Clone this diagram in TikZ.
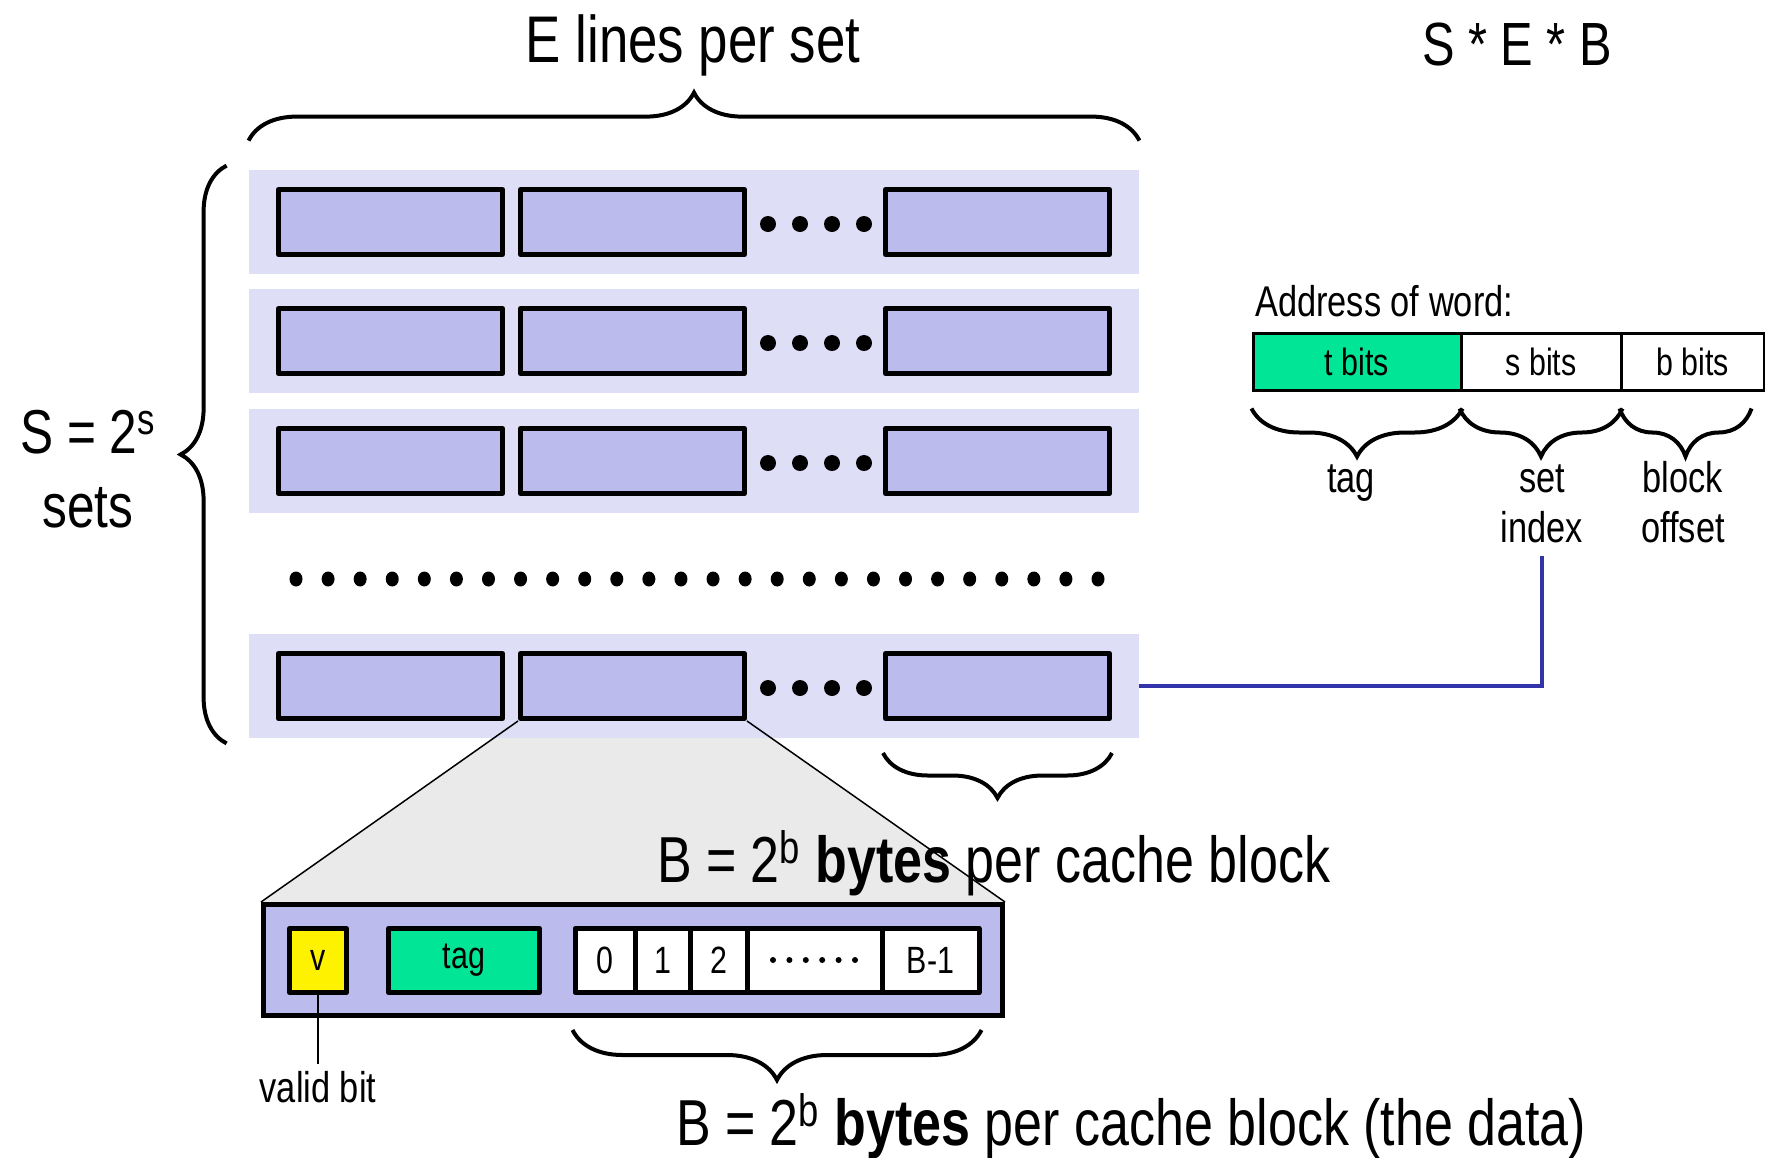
\documentclass[tikz,border=0pt]{standalone}
\usepackage{fontspec}
\setmainfont{Liberation Sans}[FakeStretch=0.8]
\usetikzlibrary{decorations.pathreplacing,backgrounds}

\definecolor{setfill}{RGB}{222,222,246}
\definecolor{linefill}{RGB}{187,187,238}
\definecolor{taggreen}{RGB}{0,230,150}
\definecolor{idxblue}{RGB}{51,51,170}
\definecolor{zoomgray}{RGB}{234,234,234}

\def\fs#1{\fontsize{#1}{#1}\selectfont}

\tikzset{
  setrow/.style={fill=setfill, inner sep=0pt, minimum width=445pt, minimum height=52pt},
  linebox/.style={draw, line width=2.5pt, line join=round, fill=linefill, minimum width=112pt, minimum height=32.5pt},
  cellbox/.style={draw, line width=2.5pt, line join=round, inner sep=0pt, minimum height=32pt, font=\fs{19pt}},
  addrbox/.style={draw, line width=1.5pt, inner sep=0pt, minimum height=28.5pt, font=\fs{19pt}},
  curly/.style={decorate, decoration={brace, amplitude=#1}, line width=2pt},
  lbl/.style={font=\fs{21.5pt}, anchor=base},
  bigtxt/.style={font=\fs{32.5pt}, anchor=base west},
}

\begin{document}
\begin{tikzpicture}[x=0.5pt, y=-0.5pt]
\useasboundingbox (0,0) rectangle (1765,1157);

% sets, three lines of each shown
\foreach \r/\y in {1/222, 2/341, 3/461, 4/686} {
  \node[setrow] (set\r) at (694,\y) {};
  \foreach \c/\x in {1/390.5, 2/632.5, 3/997.5}
    \node[linebox] (line\r\c) at (\x,\y) {};
  \foreach \k in {0,...,3}
    \fill (768+32*\k,\y+2) circle (8);
}
\foreach \k in {0,...,25}
  \fill (296+32.08*\k,579) ellipse (6.5 and 7.5);

\node[font=\fs{33pt}, anchor=base] (elines) at (693,62) {E lines per set};
\node[font=\fs{30.5pt}, anchor=base] (seb) at (1517,65) {S * E * B};
\node[font=\fs{31pt}, anchor=base] (ssets) at (88,453) {S = 2\textsuperscript{s}};
\node[font=\fs{31pt}, anchor=base] (sets) at (88,527) {sets};

\draw[curly=24pt] ([yshift=14.5pt]set1.north west) -- ([yshift=14.5pt]set1.north east);
\draw[curly=23pt] ([xshift=-11pt,yshift=-2.5pt]set4.south west) -- ([xshift=-11pt,yshift=2pt]set1.north west);

% address split into fields
\node[font=\fs{21.5pt}, anchor=base west] (addr) at (1248,316) {Address of word:};
\node[addrbox, fill=taggreen, minimum width=104pt] (tb) at (1357,361.5) {t bits};
\node[addrbox, minimum width=80pt] (sb) at (1541,361.5) {s bits};
\node[addrbox, minimum width=71.5pt] (bb) at (1692.5,361.5) {b bits};

\draw[curly=24pt] ([yshift=-8.5pt]tb.south east) -- ([yshift=-8.5pt]tb.south west);
\draw[curly=24pt] ([yshift=-8.5pt]sb.south east) -- ([yshift=-8.5pt]sb.south west);
\draw[curly=24pt] ([xshift=-7pt,yshift=-8.5pt]bb.south east) -- ([yshift=-8.5pt]bb.south west);

\node[lbl] (lbltag) at (1351,492) {tag};
\node[lbl] (lblset) at (1542,492) {set};
\node[lbl] (lblidx) at (1542,542) {index};
\node[lbl] (lblblock) at (1683,492) {block};
\node[lbl] (lbloffset) at (1683,542) {offset};

\draw[idxblue, line width=2pt, shorten >=3.5pt] (set4.east) -| (lblidx.south);

\draw[curly=22.5pt] ([yshift=-16pt]line43.south east) -- ([yshift=-16pt]line43.south west);
\node[bigtxt] (bsize) at (650,882) {B = 2\textsuperscript{b} \textbf{bytes} per cache block};

% one line blown up
\node[draw, line width=2.5pt, fill=linefill, minimum width=369.5pt, minimum height=55.5pt] (blk) at (633,960) {};
\begin{scope}[on background layer]
  \fill[zoomgray] (line42.south west) -- (line42.south east) -- (blk.north east) -- (blk.north west) -- cycle;
\end{scope}
\draw[line width=0.75pt] (line42.south west) -- (blk.north west) (line42.south east) -- (blk.north east);

\node[cellbox, fill=yellow, minimum width=28.5pt] (v) at (318,960.5) {v};
\node[cellbox, fill=taggreen, minimum width=75.5pt] (tag) at (464,960.5) {tag};
\foreach \a/\b/\t [count=\i] in {575/635/0, 635/690/1, 690/747/2, 747/882/{}, 882/979/B-1}
  \node[cellbox, fill=white, minimum width={(\b-\a)*0.5pt}] (byte\i) at ({(\a+\b)/2},960.5) {\t};
\foreach \k in {0,...,5}
  \fill (773+16.4*\k,960) circle (3);

\node[font=\fs{21.5pt}, anchor=base] (vbit) at (318,1102) {valid bit};
\draw[line width=1pt] (v.south) -- (vbit.north);

\draw[curly=25pt] ([yshift=-17.5pt]byte5.south east) -- ([yshift=-17.5pt]byte1.south west);
\node[bigtxt] (bdata) at (669,1145) {B = 2\textsuperscript{b} \textbf{bytes} per cache block (the data)};
\end{tikzpicture}
\end{document}
